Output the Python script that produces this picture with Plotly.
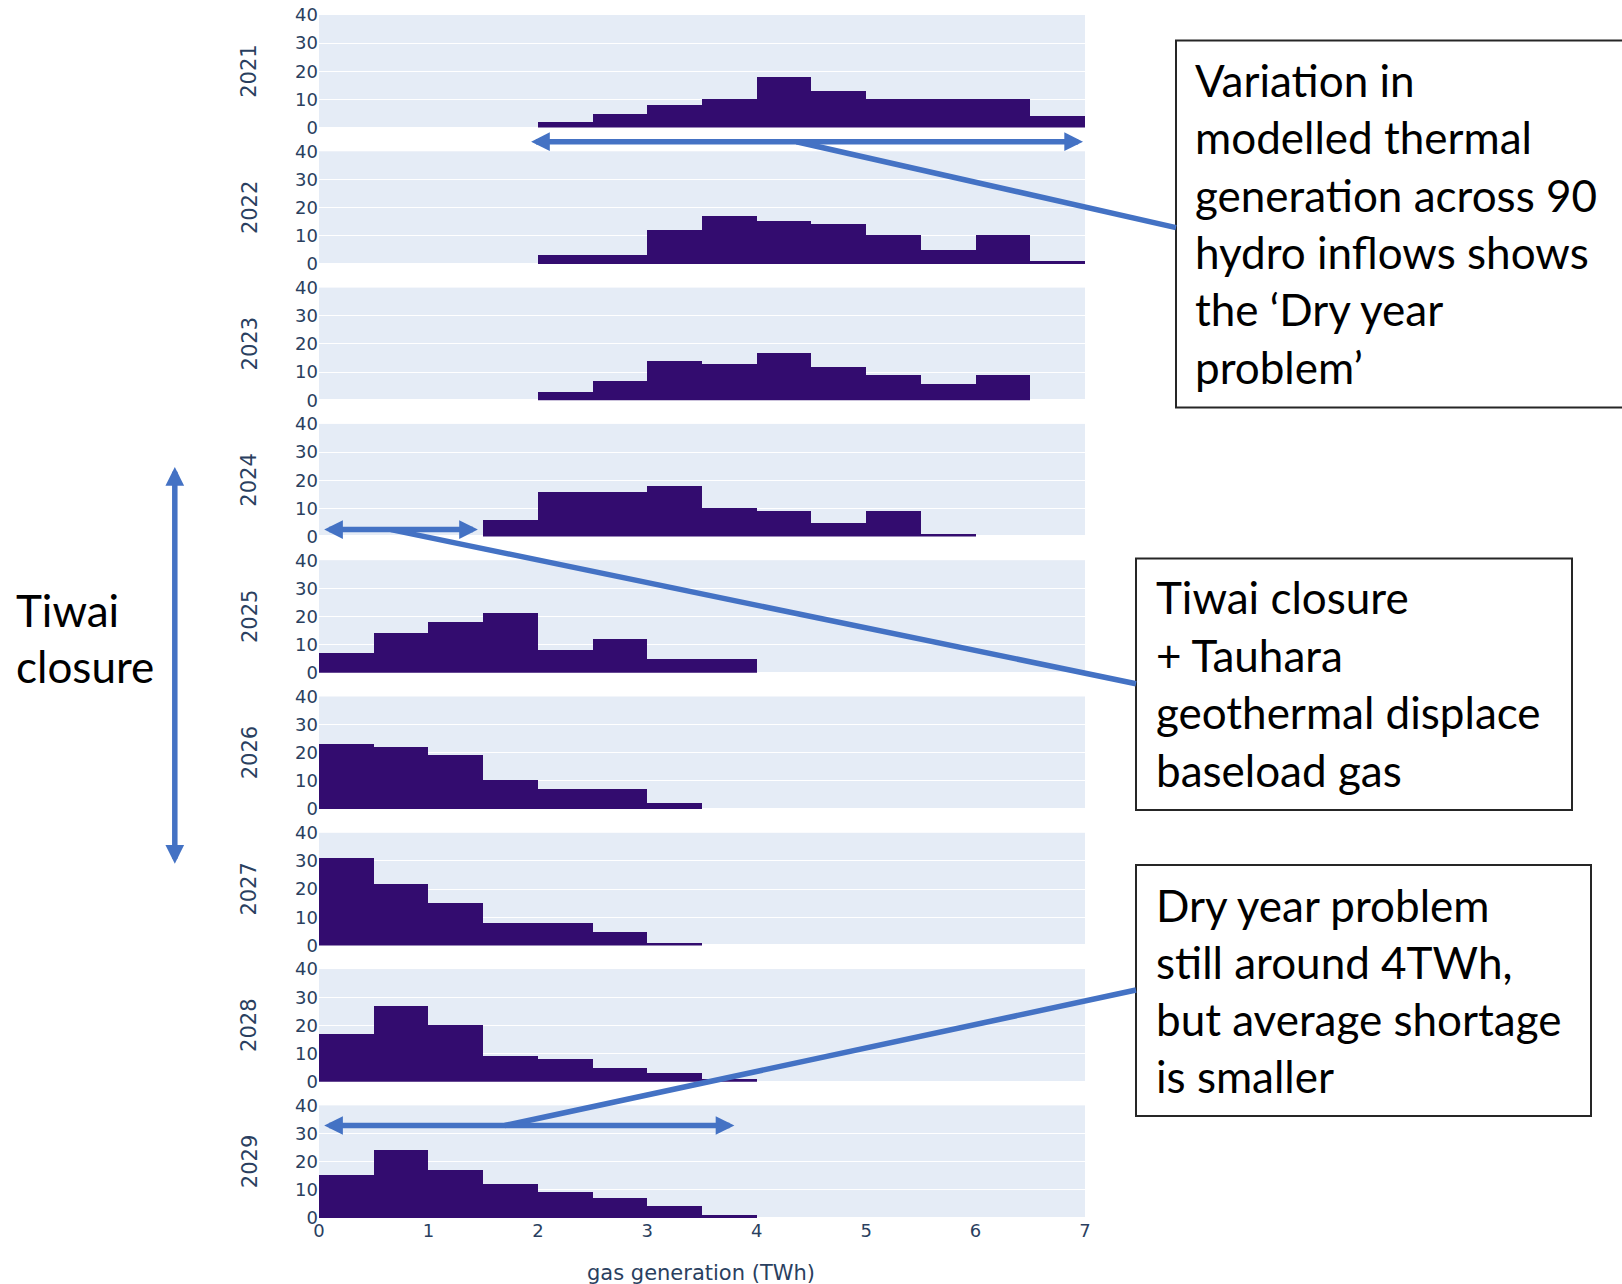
import plotly.graph_objects as go
from plotly.subplots import make_subplots

# ---------------- data ----------------
years = ["2021", "2022", "2023", "2024", "2025", "2026", "2027", "2028", "2029"]
bin_left = [0.0, 0.5, 1.0, 1.5, 2.0, 2.5, 3.0, 3.5, 4.0, 4.5, 5.0, 5.5, 6.0, 6.5]
bin_width = 0.5
counts_2021 = [0, 0, 0, 0, 2, 5, 8, 10, 18, 13, 10, 10, 10, 4]
counts_2022 = [0, 0, 0, 0, 3, 3, 12, 17, 15, 14, 10, 5, 10, 1]
counts_2023 = [0, 0, 0, 0, 3, 7, 14, 13, 17, 12, 9, 6, 9, 0]
counts_2024 = [0, 0, 0, 6, 16, 16, 18, 10, 9, 5, 9, 1, 0, 0]
counts_2025 = [7, 14, 18, 21, 8, 12, 5, 5, 0, 0, 0, 0, 0, 0]
counts_2026 = [23, 22, 19, 10, 7, 7, 2, 0, 0, 0, 0, 0, 0, 0]
counts_2027 = [31, 22, 15, 8, 8, 5, 1, 0, 0, 0, 0, 0, 0, 0]
counts_2028 = [17, 27, 20, 9, 8, 5, 3, 1, 0, 0, 0, 0, 0, 0]
counts_2029 = [15, 24, 17, 12, 9, 7, 4, 1, 0, 0, 0, 0, 0, 0]
counts = [counts_2021, counts_2022, counts_2023, counts_2024, counts_2025,
          counts_2026, counts_2027, counts_2028, counts_2029]

x_range = [0, 7]
x_ticks = [0, 1, 2, 3, 4, 5, 6, 7]
y_range = [0, 40]
y_ticks = [0, 10, 20, 30, 40]
x_title = "gas generation (TWh)"

box1_lines = ["Variation in", "modelled thermal", "generation across 90",
              "hydro inflows shows", "the \u2018Dry year", "problem\u2019"]
box2_lines = ["Tiwai closure", "+ Tauhara", "geothermal displace", "baseload gas"]
box3_lines = ["Dry year problem", "still around 4TWh,", "but average shortage", "is smaller"]
side_lines = ["Tiwai", "closure"]

# ---------------- layout constants ----------------
W, H = 1622, 1284
ML, MR, MT, MB = 319, 537, 15, 66
PW = W - ML - MR
PH = H - MT - MB


def px(x):
    return (x - ML) / PW


def py(y):
    return (H - MB - y) / PH


BAR = "#330c6f"
BLUE = "#4472c4"
AXC = "#2a3f5f"
CHART_FONT = "DejaVu Sans"
NOTE_FONT = "Lato"
NOTE_SIZE = 44
LW = 5.5

fig = make_subplots(rows=len(years), cols=1, shared_xaxes=True, vertical_spacing=0.0197)

for i, (yr, c) in enumerate(zip(years, counts), start=1):
    fig.add_trace(go.Bar(x=bin_left, y=c, width=bin_width, offset=0,
                         marker=dict(color=BAR, line=dict(color=BAR, width=0)),
                         showlegend=False, hoverinfo="x+y"), row=i, col=1)
    fig.update_yaxes(range=y_range, tickvals=y_ticks, showgrid=True, gridcolor="white",
                     zeroline=True, zerolinecolor="white", zerolinewidth=2, automargin=False,
                     tickfont=dict(family=CHART_FONT, size=18, color=AXC), row=i, col=1)
    yref = "y domain" if i == 1 else f"y{i} domain"
    fig.add_annotation(text=yr, xref="paper", yref=yref, x=px(249.5), y=0.5,
                       textangle=-90, showarrow=False, xanchor="center", yanchor="middle",
                       font=dict(family=CHART_FONT, size=21, color=AXC))

fig.update_xaxes(range=x_range, tickvals=x_ticks, showgrid=False, zeroline=False,
                 automargin=False, tickfont=dict(family=CHART_FONT, size=18, color=AXC))

fig.add_annotation(text=x_title, xref="paper", yref="paper", x=px(701), y=py(1273),
                   showarrow=False, xanchor="center", yanchor="middle",
                   font=dict(family=CHART_FONT, size=21, color=AXC))

shapes = []
# text boxes
for (x0, y0, x1, y1) in [(1176, 40.5, 1650, 407.5), (1136, 558.5, 1572, 810), (1136, 865, 1591, 1116)]:
    shapes.append(dict(type="rect", xref="paper", yref="paper", x0=px(x0), x1=px(x1),
                       y0=py(y1), y1=py(y0), line=dict(color="#262626", width=2),
                       fillcolor="rgba(0,0,0,0)", layer="above"))
# connector lines
for (x0, y0, x1, y1) in [(796.5, 141.7, 1176, 227.6), (391, 529.6, 1136, 683.7),
                         (504.8, 1125.5, 1136, 990)]:
    shapes.append(dict(type="line", xref="paper", yref="paper", x0=px(x0), y0=py(y0),
                       x1=px(x1), y1=py(y1), line=dict(color=BLUE, width=LW), layer="above"))
fig.update_layout(shapes=shapes)

# double-headed arrows
for (x0, y0, x1, y1) in [(529.6, 141.7, 1083, 141.7), (322.7, 529.6, 477.9, 529.6),
                         (322.7, 1125.5, 734.4, 1125.5), (174.8, 465.5, 174.8, 863.7)]:
    fig.add_annotation(text="", xref="paper", yref="paper", x=px(x1), y=py(y1),
                       axref="pixel", ayref="pixel", ax=x0 - x1, ay=y0 - y1,
                       showarrow=True, arrowside="end+start", arrowhead=2, startarrowhead=2,
                       arrowsize=0.68, startarrowsize=0.68, arrowwidth=LW, arrowcolor=BLUE,
                       standoff=0, startstandoff=0)

# note texts
def add_lines(lines, x_left, y_first, step):
    for k, t in enumerate(lines):
        fig.add_annotation(text=t, xref="paper", yref="paper", x=px(x_left),
                           y=py(y_first + k * step), showarrow=False,
                           xanchor="left", yanchor="middle",
                           font=dict(family=NOTE_FONT, size=NOTE_SIZE, color="black"))

add_lines(box1_lines, 1193, 80, 57.3)
add_lines(box2_lines, 1154, 597, 57.5)
add_lines(box3_lines, 1154, 904.5, 57.3)
add_lines(side_lines, 14, 610, 56)

fig.update_layout(width=W, height=H, margin=dict(l=ML, r=MR, t=MT, b=MB, pad=0, autoexpand=False),
                  template="plotly", plot_bgcolor="#E5ECF6", paper_bgcolor="white",
                  bargap=0, font=dict(family=CHART_FONT, color=AXC))

fig.write_html("out.html", config={"displayModeBar": False},
               post_script="document.body.style.margin='0px';")
